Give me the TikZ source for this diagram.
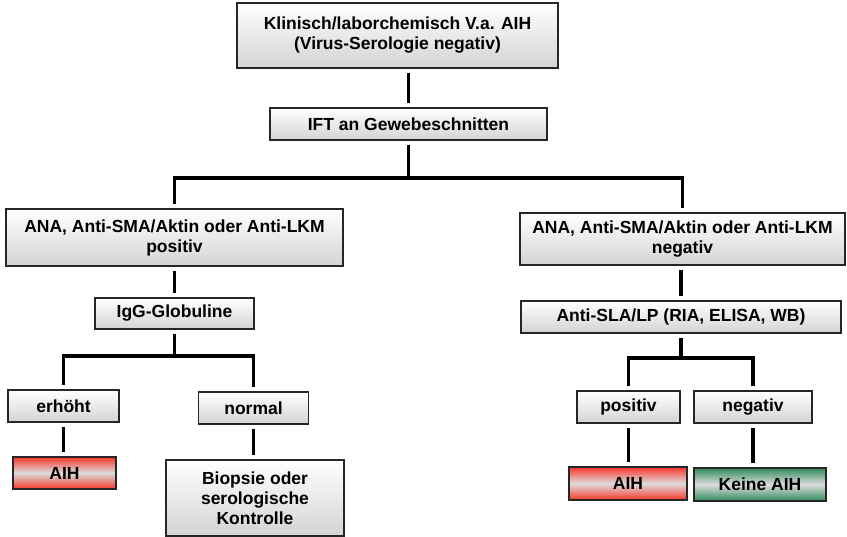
\documentclass[tikz,border=0pt]{standalone}
\usepackage{fontspec}
\setmainfont{Liberation Sans}
\usepackage{tikz}
\usetikzlibrary{positioning}

\definecolor{aihred}{HTML}{F8362A}
\definecolor{aihgreen}{HTML}{2F8A5C}
\definecolor{midgray}{HTML}{DCDCDC}

\tikzset{
  box/.style={draw=black!85, line width=1.3pt, top color=white, bottom color=black!17,
    align=center, inner sep=0pt, font=\fontsize{17.5}{20}\selectfont\bfseries},
  redbox/.style={box, top color=aihred, bottom color=aihred, middle color=midgray},
  greenbox/.style={box, top color=aihgreen, bottom color=aihgreen, middle color=midgray},
  conn/.style={line width=3.6pt, line join=miter, shorten <=4pt, shorten >=4pt},
}

\begin{document}
\begin{tikzpicture}[x=1pt, y=-1pt]
			\useasboundingbox (0,0) rectangle (847,537);
			
			\node[box, minimum width=321, minimum height=65] (verdacht) at (397.5,35.5) {Klinisch/laborchemisch V.a. AIH\\(Virus-Serologie negativ)};
			\node[box, minimum width=277, minimum height=32] (ift) at (408.5,124) {IFT an Gewebeschnitten};
			
			\node[box, minimum width=337, minimum height=57] (anaPos) at (174.5,237.5) {ANA, Anti-SMA/Aktin oder Anti-LKM\\positiv};
			\node[box, minimum width=325, minimum height=52] (anaNeg) at (682.5,239) {ANA, Anti-SMA/Aktin oder Anti-LKM\\negativ};
			
			\node[box, minimum width=159, minimum height=31] (igg) at (174.5,313.5) {IgG-Globuline};
			\node[box, minimum width=111, minimum height=32] (erhoeht) at (63.5,406) {erhöht};
			\node[box, minimum width=110, minimum height=32] (normal) at (253.5,408) {normal};
			\node[redbox, minimum width=103, minimum height=32] (aihL) at (64.5,473) {AIH};
			\node[box, minimum width=178, minimum height=76] (biopsie) at (255,498) {Biopsie oder\\serologische\\Kontrolle};
			
			\node[box, minimum width=320, minimum height=32] (sla) at (681,317) {Anti-SLA/LP (RIA, ELISA, WB)};
			\node[box, minimum width=103, minimum height=32] (positiv) at (628.5,407) {positiv};
			\node[box, minimum width=118, minimum height=32] (negativ) at (753,407) {negativ};
			\node[redbox, minimum width=118, minimum height=33] (aihR) at (628,483.5) {AIH};
			\node[greenbox, minimum width=132, minimum height=33] (keineAih) at (760,484.5) {Keine AIH};
			
			% Verbindungen
			\coordinate (jIft) at (408.5,178);
			\coordinate (jIgg) at (174.5,356);
			\coordinate (jSla) at (681,358);
			
			\draw[conn] (ift.north) -- (ift.north |- verdacht.south);
			\draw[conn, shorten >=0pt] (ift.south) -- (jIft);
			\draw[conn] (anaPos.north) |- (jIft) -| (anaNeg.north);
			
			\draw[conn] (anaPos.south) -- (igg.north);
			\draw[conn, shorten >=0pt] (igg.south) -- (jIgg);
			\draw[conn] (erhoeht.north) |- (jIgg) -| (normal.north);
			\draw[conn] (erhoeht.south) -- (erhoeht.south |- aihL.north);
			\draw[conn] (normal.south) -- (normal.south |- biopsie.north);
			
			\draw[conn] (sla.north) -- (sla.north |- anaNeg.south);
			\draw[conn, shorten >=0pt] (sla.south) -- (jSla);
			\draw[conn] (positiv.north) |- (jSla) -| (negativ.north);
			\draw[conn] (positiv.south) -- (positiv.south |- aihR.north);
			\draw[conn] (negativ.south) -- (negativ.south |- keineAih.north);
			
\end{tikzpicture}
\end{document}
